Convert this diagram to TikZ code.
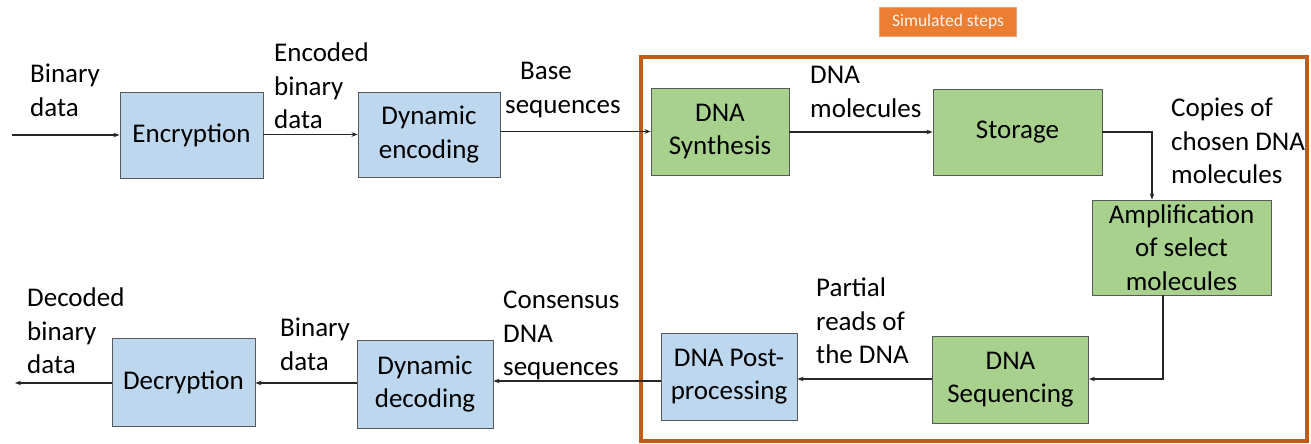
\documentclass[tikz,border=0pt]{standalone}
\usepackage{fontspec}
\setmainfont{Carlito}
\usetikzlibrary{arrows.meta, positioning}
\definecolor{stepblue}{HTML}{BDD7EE}
\definecolor{stepgreen}{HTML}{A9D18E}
\definecolor{framebrown}{HTML}{C55A11}
\definecolor{tagorange}{HTML}{ED7D31}

\begin{document}
\begin{tikzpicture}[x=1pt, y=-1pt,
  stage/.style={rectangle, draw=black!65, fill=#1, line width=0.9pt, align=center, inner sep=0pt, font=\fontsize{27}{33.5}\selectfont},
  lbl/.style={anchor=north west, align=left, inner sep=0pt, font=\fontsize{27}{33.5}\selectfont},
  arr/.style={-{Stealth[length=6pt, width=4.5pt]}, line width=1.1pt, draw=black!85}
]
\useasboundingbox (0,0) rectangle (1311,444);

% Simulated steps frame and tag
\draw[framebrown, line width=3.5pt] (641,57) rectangle (1307,441);
\node[rectangle, draw=tagorange!70!white, fill=tagorange, minimum width=137pt, minimum height=29pt, inner sep=0pt, text=white!92!tagorange, font=\fontsize{17.5}{20}\selectfont] (tag) at (948,21.5) {Simulated steps};

% Encoding row
\node[stage=stepblue, minimum width=143pt, minimum height=86pt] (enc) at (191.5,135) {Encryption};
\node[stage=stepblue, minimum width=142pt, minimum height=85pt] (denc) at (429,134.5) {Dynamic\\encoding};
\node[stage=stepgreen, minimum width=138pt, minimum height=87pt] (synth) at (720,131.5) {DNA\\Synthesis};
\node[stage=stepgreen, minimum width=169pt, minimum height=86pt] (store) at (1017.5,132) {Storage};

% Amplification
\node[stage=stepgreen, minimum width=179pt, minimum height=95pt] (amp) at (1181.5,247.5) {Amplification\\of select\\molecules};

% Decoding row
\node[stage=stepgreen, minimum width=156pt, minimum height=87pt] (seq) at (1010.5,379.5) {DNA\\Sequencing};
\node[stage=stepblue, minimum width=136pt, minimum height=87pt] (post) at (729,376.5) {DNA Post-\\processing};
\node[stage=stepblue, minimum width=136pt, minimum height=88pt] (ddec) at (425,384) {Dynamic\\decoding};
\node[stage=stepblue, minimum width=143pt, minimum height=88pt] (decr) at (183.5,382) {Decryption};

% Free ends and bends
\coordinate (datain) at (12,135);
\coordinate (dataout) at (15,383);
\coordinate (bend1) at (1152,132);
\coordinate (bend2) at (1163,379);

% Labels
\node[lbl] (l1) at (30,64) {Binary\\data};
\node[lbl] (l2) at (274,43) {Encoded\\binary\\data};
\node[lbl] (l3) at (505,62) {\hspace{15pt}Base\\sequences};
\node[lbl] (l4) at (810,66) {DNA\\molecules};
\node[lbl] (l5) at (1171,98) {Copies of\\chosen DNA\\molecules};
\node[lbl] (l6) at (816,278) {Partial\\reads of\\the DNA};
\node[lbl] (l7) at (503,291) {Consensus\\DNA\\sequences};
\node[lbl] (l8) at (280,318) {Binary\\data};
\node[lbl] (l9) at (27,288) {Decoded\\binary\\data};

% Arrows
\draw[arr, line width=2pt] (datain) -- (datain -| enc.west);
\foreach \a/\b in {enc/denc, denc/synth, synth/store} {
  \draw[arr] (\a.east |- \b) -- (\b.west);
}
\draw[arr] (store.east |- bend1) -- (bend1) -- (bend1 |- amp.north);
\draw[arr, line width=1.8pt] (bend2 |- amp.south) -- (bend2) -- (bend2 -| seq.east);
\draw[arr] (seq.west |- bend2) -- (bend2 -| post.east);
\draw[arr] (post.west |- 0,381) -- (ddec.east |- 0,381);
\draw[arr] (ddec.west |- dataout) -- (ddec.west |- dataout -| decr.east);
\draw[arr, line width=1.6pt] (decr.west |- dataout) -- (dataout);
\end{tikzpicture}
\end{document}
